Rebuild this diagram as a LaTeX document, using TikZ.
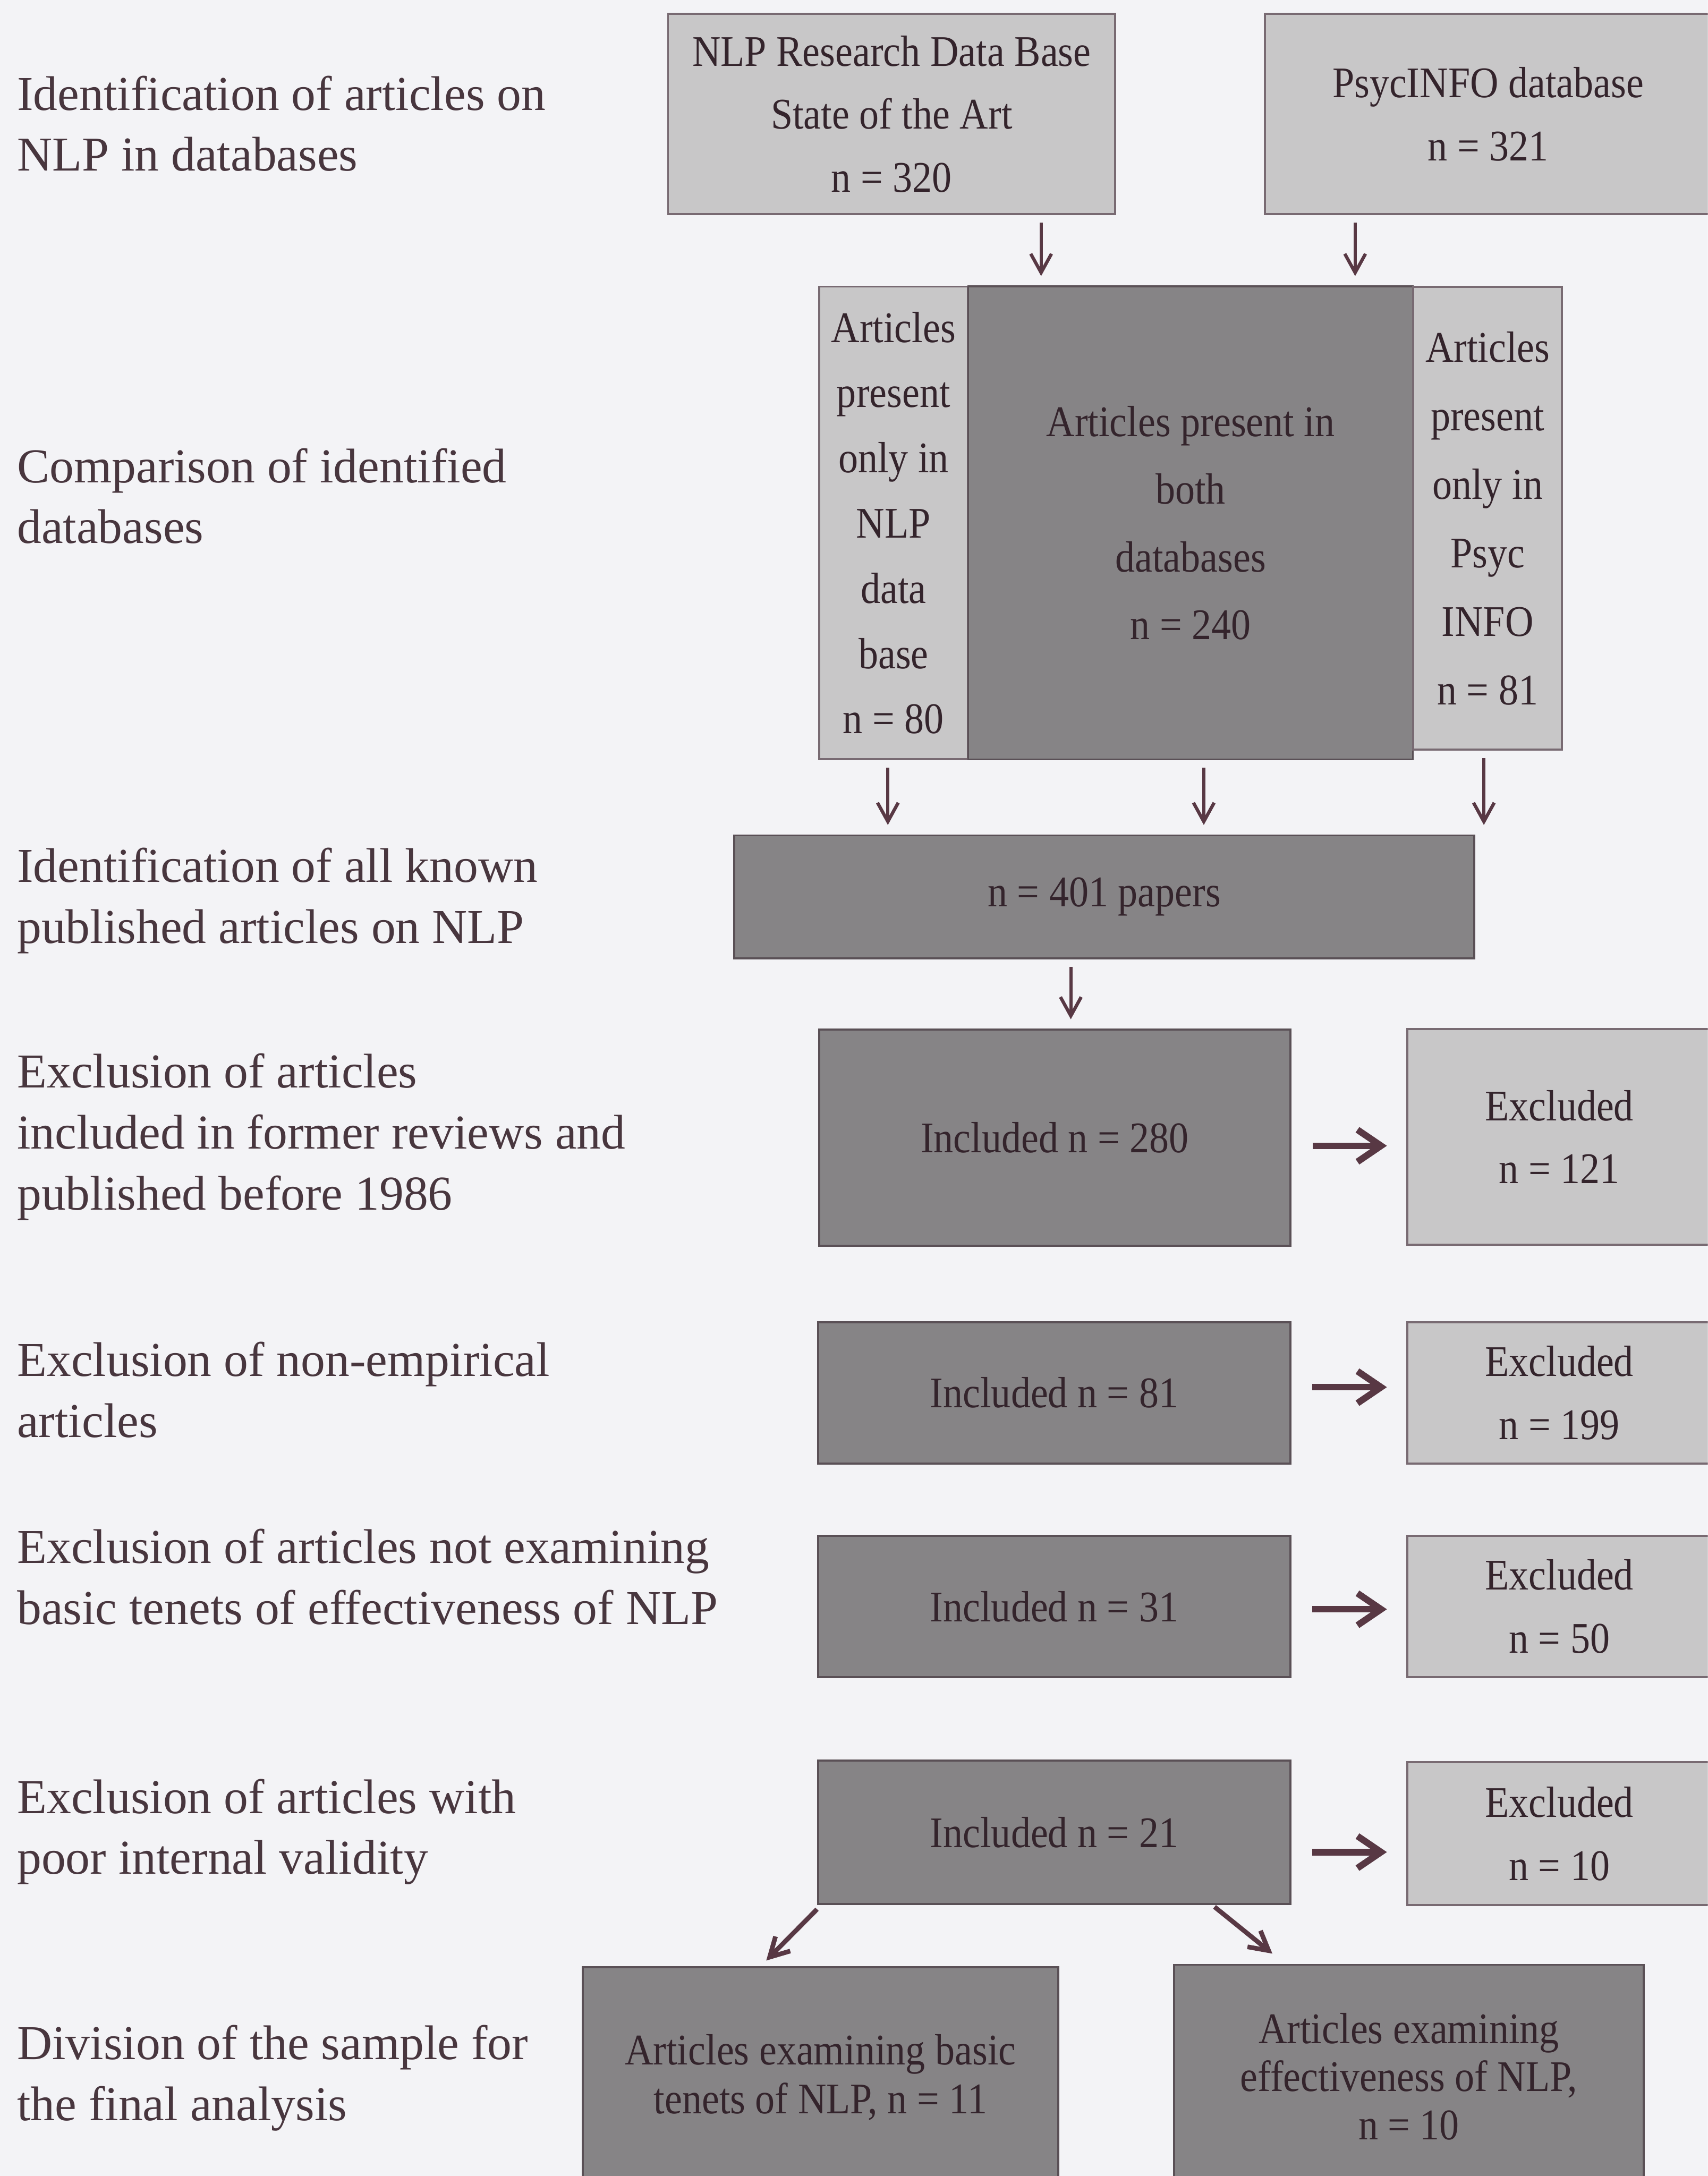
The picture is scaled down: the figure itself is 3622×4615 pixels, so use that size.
\documentclass[tikz,border=0pt]{standalone}
\usepackage{fontspec}
\setmainfont{Liberation Serif}
\newfontfamily\boxfont{Liberation Serif}[FakeStretch=0.9]
\usepackage{xcolor}
\usepackage{tikz}
\usetikzlibrary{positioning,calc,arrows.meta}

\definecolor{paper}{RGB}{243,243,246}
\definecolor{ink}{RGB}{72,54,62}
\definecolor{boxink}{RGB}{52,36,44}
\definecolor{lightgr}{RGB}{200,199,200}
\definecolor{darkgr}{RGB}{134,132,134}
\definecolor{edge}{RGB}{120,106,114}
\definecolor{arrowc}{RGB}{88,56,68}

\begin{document}
\begin{tikzpicture}[
		x=0.005cm, y=-0.005cm, % 1 unit = 1 px of the scan
		box/.style={
			draw=edge, line width=0.6pt,
			inner sep=0pt, outer sep=0pt,
			align=center, text=boxink,
			font=\boxfont\fontsize{13.2}{19}\selectfont
		},
		light/.style={box, fill=lightgr},
		dark/.style={box, fill=darkgr, draw=edge!75!black},
		stage/.style={
			anchor=west, align=left, inner sep=0pt, text=ink,
			font=\fontsize{14.7}{18.4}\selectfont
		},
		arr/.style={
			->, >={Straight Barb[length=0.2cm,width=0.22cm]}, arrowc, line width=1pt,
			shorten <=0.09cm, shorten >=0.11cm
		},
		sidearr/.style={
			->, >={Straight Barb[length=0.25cm,width=0.34cm]}, arrowc, line width=2pt,
			shorten <=0.235cm, shorten >=0.215cm
		}
	]
	\useasboundingbox (0,0) rectangle (3622,4615);
	\clip (0,0) rectangle (3622,4615);
	\fill[paper] (0,0) rectangle (3622,4615);
	
	% Stufen links
	\node[stage] (st1) at (35,262) {Identification of articles on\\NLP in databases};
	\node[stage] (st2) at (35,1052) {Comparison of identified\\databases};
	\node[stage] (st3) at (35,1910) {Identification of all known\\published articles on NLP};
	\node[stage] (st4) at (35,2411) {Exclusion of articles\\included in former reviews and\\published before 1986};
	\node[stage] (st5) at (35,2948) {Exclusion of non-empirical\\articles};
	\node[stage] (st6) at (35,3344) {Exclusion of articles not examining\\basic tenets of effectiveness of NLP};
	\node[stage] (st7) at (35,3885) {Exclusion of articles with\\poor internal validity};
	\node[stage] (st8) at (35,4407) {Division of the sample for\\the final analysis};
	
	% Datenbanken
	\node[light, minimum width=4.745cm, minimum height=2.125cm] (nlpdb) at (1891,242)
		{NLP Research Data Base\\State of the Art\\n = 320};
	\node[light, minimum width=4.74cm, minimum height=2.125cm] (psycdb) at (3156,242)
		{PsycINFO database\\n = 321};
	
	% Vergleich
	\node[light, minimum width=1.58cm, minimum height=5.015cm, font=\boxfont\fontsize{13.2}{19.7}\selectfont] (onlynlp) at (1895,1109)
		{Articles\\present\\only in\\NLP\\data\\base\\n = 80};
	\node[dark, minimum width=4.72cm, minimum height=5.02cm, font=\boxfont\fontsize{13.2}{20.4}\selectfont] (both) at (2525,1109)
		{Articles present in\\both\\databases\\n = 240};
	\node[light, minimum width=1.58cm, minimum height=4.91cm, font=\boxfont\fontsize{13.2}{20.7}\selectfont] (onlypsyc) at (3155,1099)
		{Articles\\present\\only in\\Psyc\\INFO\\n = 81};
	
	\node[dark, minimum width=7.855cm, minimum height=1.305cm] (allpapers) at (2342,1902) {n = 401 papers};
	
	% Ein-/Ausschluss
	\node[dark, minimum width=5.005cm, minimum height=2.295cm] (incl1) at (2237,2413) {Included n = 280};
	\node[light, minimum width=3.23cm, minimum height=2.29cm] (excl1) at (3307,2411) {Excluded\\n = 121};
	\node[dark, minimum width=5.01cm, minimum height=1.5cm] (incl2) at (2236,2954) {Included n = 81};
	\node[light, minimum width=3.23cm, minimum height=1.5cm] (excl2) at (3307,2954) {Excluded\\n = 199};
	\node[dark, minimum width=5.01cm, minimum height=1.5cm] (incl3) at (2236,3407) {Included n = 31};
	\node[light, minimum width=3.23cm, minimum height=1.5cm] (excl3) at (3307,3407) {Excluded\\n = 50};
	\node[dark, minimum width=5.01cm, minimum height=1.52cm] (incl4) at (2236,3886) {Included n = 21};
	\node[light, minimum width=3.23cm, minimum height=1.515cm] (excl4) at (3307,3889) {Excluded\\n = 10};
	
	% Aufteilung
	\node[dark, minimum width=5.045cm, minimum height=2.34cm, font=\boxfont\fontsize{13.2}{14.8}\selectfont] (tenets) at (1740,4406)
		{Articles examining basic\\tenets of NLP, n = 11};
	\node[dark, minimum width=4.985cm, minimum height=2.37cm, font=\boxfont\fontsize{13.2}{14.5}\selectfont] (effect) at (2988,4404)
		{Articles examining\\effectiveness of NLP,\\n = 10};
	
	% Pfeile
	\draw[arr] (nlpdb.south -| 2208,0) -- (both.north -| 2208,0);
	\draw[arr] (psycdb.south -| 2874,0) -- (both.north -| 2874,0);
	\draw[arr] (onlynlp.south -| 1883,0) -- (allpapers.north -| 1883,0);
	\draw[arr] (both.south -| 2553,0) -- (allpapers.north -| 2553,0);
	\draw[arr] (onlypsyc.south -| 3147,0) -- (allpapers.north -| 3147,0);
	\draw[arr] (allpapers.south -| 2271,0) -- (incl1.north -| 2271,0);
	
	\draw[sidearr] (incl1.east |- 0,2430) -- (excl1.west |- 0,2430);
	\draw[sidearr] (incl2.east |- 0,2942) -- (excl2.west |- 0,2942);
	\draw[sidearr] (incl3.east |- 0,3413) -- (excl3.west |- 0,3413);
	\draw[sidearr] (incl4.east |- 0,3928) -- (excl4.west |- 0,3928);
	
	\draw[arr, line width=1.4pt, shorten <=0.08cm, shorten >=0.1cm] (incl4.south -| 1744,0) -- (tenets.north -| 1611,0);
	\draw[arr, line width=1.4pt, shorten <=0.05cm, shorten >=0.19cm] (incl4.south -| 2568,0) -- (effect.north -| 2728,0);
	
\end{tikzpicture}
\end{document}
